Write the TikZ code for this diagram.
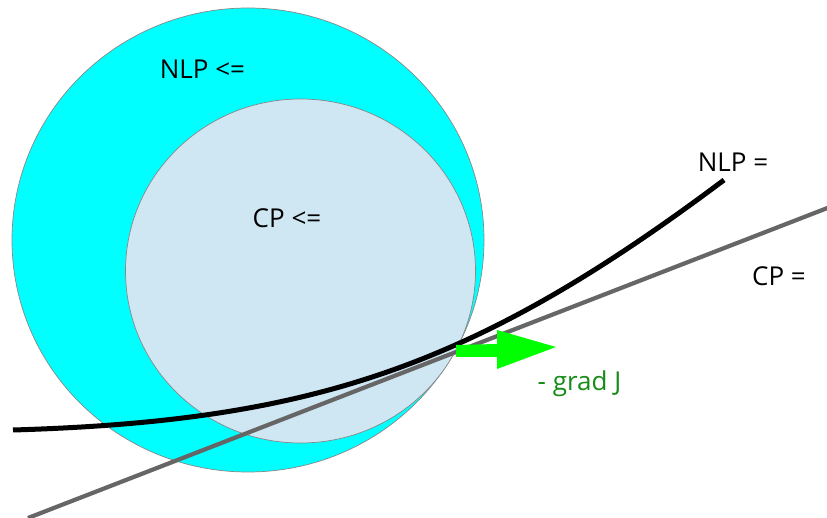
\documentclass[tikz,border=0pt]{standalone}
\usepackage{fontspec}
\setmainfont{Open Sans}
\definecolor{outerfill}{HTML}{00FFFF}
\definecolor{innerfill}{HTML}{CFE6F3}
\definecolor{rimgray}{HTML}{888888}
\definecolor{cpgray}{HTML}{666666}
\definecolor{arrowgreen}{HTML}{00FF00}
\definecolor{textgreen}{HTML}{168C16}
\begin{document}
\begin{tikzpicture}[x=1pt,y=-1pt,
  lbl/.style={font=\fontsize{26}{30}\selectfont, inner sep=0pt, anchor=base},
  region/.style={draw=rimgray, line width=0.7pt},
  cpline/.style={draw=cpgray, line width=4.2pt},
  nlpline/.style={draw=black, line width=5pt},
  gradarrow/.style={fill=arrowgreen}]
\useasboundingbox (0,0) rectangle (827,518);
\fill[white] (0,0) rectangle (827,518);
% regions
\path[region, fill=outerfill] (248,240) ellipse [x radius=236, y radius=232];
\path[region, fill=innerfill] (300.5,271) ellipse [x radius=175, y radius=172];
% linearised constraint CP =
\coordinate (g1) at (28,518);
\coordinate (g2) at (830,207);
\draw[cpline] (g1) -- (g2);
% nonlinear constraint NLP =
\coordinate (n1) at (13,430);
\coordinate (n2) at (724,180);
\draw[nlpline] (n1) .. controls (313,421) and (474,367.5) .. (n2);
% - grad J arrow
\coordinate (a1) at (456,345);
\coordinate (a2) at (497,344);
\coordinate (a3) at (497,330);
\coordinate (a4) at (556,347);
\coordinate (a5) at (497,369);
\coordinate (a6) at (497,357);
\coordinate (a7) at (456,357);
\fill[gradarrow] (a1) -- (a2) -- (a3) -- (a4) -- (a5) -- (a6) -- (a7) -- cycle;
% labels
\node[lbl] (nlple) at (202.5,79) {NLP <=};
\node[lbl] (cple) at (287,228) {CP <=};
\node[lbl] (nlpeq) at (733,172) {NLP =};
\node[lbl] (cpeq) at (779,286) {CP =};
\node[lbl, text=textgreen] (gradj) at (579.5,390) {- grad J};
\end{tikzpicture}
\end{document}
